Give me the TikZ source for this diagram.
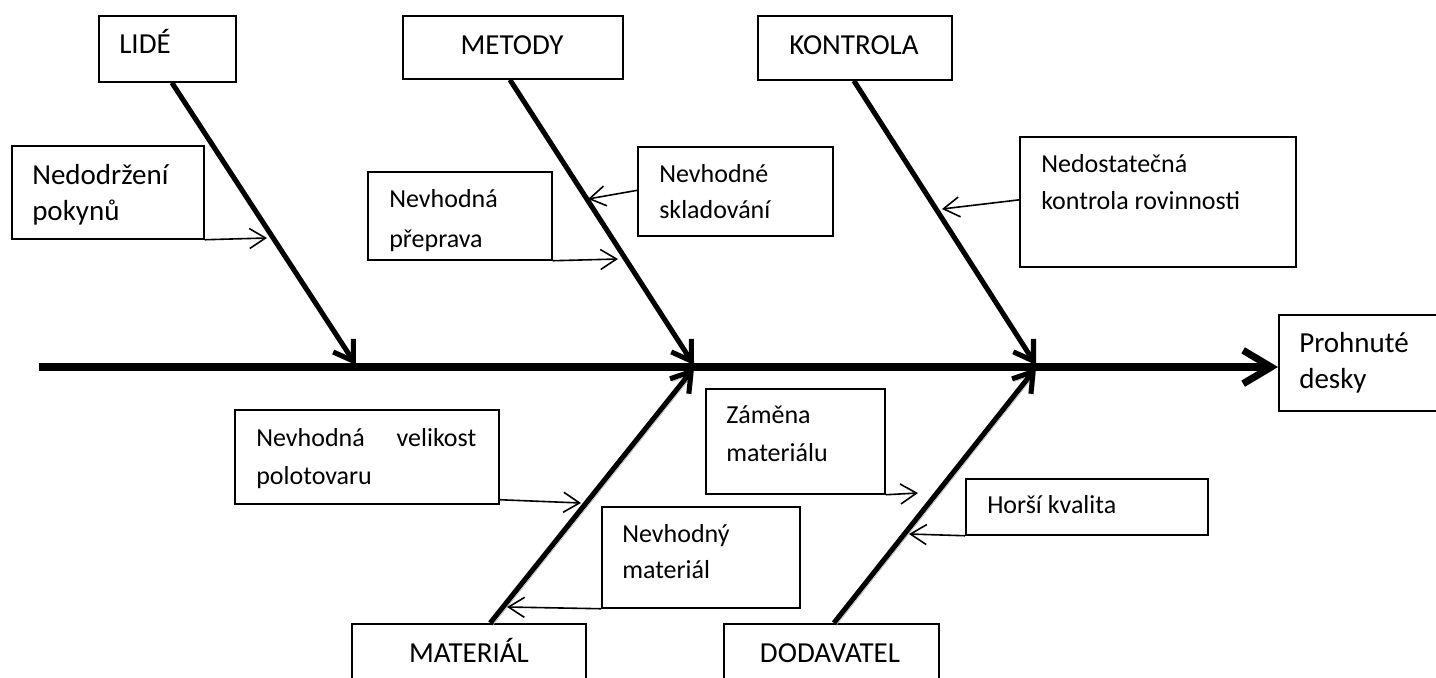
\documentclass[tikz,border=0pt]{standalone}
\usepackage{fontspec}
\setmainfont{Carlito}
\usetikzlibrary{arrows.meta,calc}
\tikzset{
  box/.style={draw, line width=1.3pt, inner sep=0, anchor=north west},
  big/.style={inner sep=0, font=\fontsize{21.75}{27}\selectfont},
  small/.style={inner sep=0, anchor=base west, font=\fontsize{19.5}{27.5}\selectfont},
  shad/.style={preaction={draw=black!30, transform canvas={shift={(1.6pt,-2pt)}}}},
  bone/.style={shad, line width=3.8pt, -{Straight Barb[length=14pt,width=18pt]}},
  spine/.style={shad, line width=5.3pt, -{Straight Barb[length=21pt,width=25pt]}},
  cause/.style={line width=1.2pt, -{Straight Barb[length=12pt,width=15pt]}}
}
\newcommand\twolines[3]{\parbox[t]{260pt}{\raggedright\baselineskip=#1 #2\\#3}}
\begin{document}
\begin{tikzpicture}[x=0.75pt,y=-0.75pt]
\clip (0,0) rectangle (1436,678);
\fill[white] (0,0) rectangle (1436,678);

% category boxes
\node[box, minimum width=102.75pt, minimum height=49.5pt] (lide) at (98,15) {};
\node[big, anchor=base west] (lidet) at (119,53) {LIDÉ};
\node[box, minimum width=165pt, minimum height=47.25pt] (metody) at (402,15) {};
\node[big, anchor=base] (metodyt) at (512,55) {METODY};
\node[box, minimum width=145.5pt, minimum height=48pt] (kontrola) at (757,15) {};
\node[big, anchor=base] (kontrolat) at (854,55) {KONTROLA};
\node[box, minimum width=175.5pt, minimum height=60pt] (materialc) at (351,623) {};
\node[big, anchor=base] (materialct) at (469,662) {MATERIÁL};
\node[box, minimum width=161.25pt, minimum height=60pt] (dodavatel) at (723,623) {};
\node[big, anchor=base] (dodavatelt) at (830,662) {DODAVATEL};

% effect
\node[box, minimum width=130pt, minimum height=72pt] (prohnute) at (1278,314) {};
\node[big, anchor=base west] (prohnutet) at (1299,352) {\twolines{27pt}{Prohnuté}{desky}};

% cause boxes
\node[box, minimum width=144pt, minimum height=69.75pt] (nedodrzeni) at (11,145) {};
\node[big, anchor=base west] (nedodrzenit) at (32,184) {\twolines{27pt}{Nedodržení}{pokynů}};
\node[box, minimum width=138pt, minimum height=66pt] (preprava) at (367,171) {};
\node[small] (prepravat) at (389,207) {\twolines{30pt}{Nevhodná}{přeprava}};
\node[box, minimum width=146.25pt, minimum height=66.75pt] (skladovani) at (637,146) {};
\node[small] (skladovanit) at (659,182) {\twolines{27pt}{Nevhodné}{skladování}};
\node[box, minimum width=207pt, minimum height=97.5pt] (nedostatecna) at (1019,136) {};
\node[small] (nedostatecnat) at (1041,172) {\twolines{27.75pt}{Nedostatečná}{kontrola rovinnosti}};
\node[box, minimum width=198pt, minimum height=70.5pt] (velikost) at (234,409) {};
\node[small] (velikostt) at (256,446) {\twolines{28.5pt}{\makebox[165pt][s]{Nevhodná\hfill velikost}}{polotovaru}};
\node[box, minimum width=148.5pt, minimum height=75.75pt] (nevhodny) at (601,506) {};
\node[small] (nevhodnyt) at (622,542) {\twolines{27pt}{Nevhodný}{materiál}};
\node[box, minimum width=134.25pt, minimum height=78.75pt] (zamena) at (705,388) {};
\node[small] (zamenat) at (726,423) {\twolines{28.5pt}{Záměna}{materiálu}};
\node[box, minimum width=181.5pt, minimum height=42pt] (horsi) at (965,478) {};
\node[small] (horsit) at (987,513) {Horší kvalita};

% joints and arrow ends
\coordinate (tail) at (39,367);
\coordinate (j1) at (356,365);
\coordinate (j2) at (694,365);
\coordinate (j3) at (1036,365);
\coordinate (j2b) at (694,368);
\coordinate (j3b) at (1036,368);
\coordinate (a1) at (267,238);
\coordinate (a2) at (618,259);
\coordinate (a3) at (588,199);
\coordinate (a4) at (942,209);
\coordinate (a5) at (581,503);
\coordinate (a6) at (507,607);
\coordinate (a7) at (918,493);
\coordinate (a8) at (909,534);

% spine
\draw[spine] (tail) -- (tail -| prohnute.west);

% bones
\draw[bone] ([xshift=3.4pt]lide.south) -- (j1);
\draw[bone] ([xshift=-2.25pt]metody.south) -- (j2);
\draw[bone] ([xshift=-0.75pt]kontrola.south) -- (j3);
\draw[bone] ([xshift=16pt]materialc.north) -- (j2b);
\draw[bone] ([xshift=1.9pt]dodavatel.north) -- (j3b);

% causes
\draw[cause] (nedodrzeni.south east) -- (a1);
\draw[cause] (preprava.south east) -- (a2);
\draw[cause] ([yshift=0.75pt]skladovani.west) -- (a3);
\draw[cause] ([yshift=1.5pt]nedostatecna.west) -- (a4);
\draw[cause] ([yshift=3.75pt]velikost.south east) -- (a5);
\draw[cause] (nevhodny.south west) -- (a6);
\draw[cause] (zamena.south east) -- (a7);
\draw[cause] (horsi.south west) -- (a8);
\end{tikzpicture}
\end{document}
